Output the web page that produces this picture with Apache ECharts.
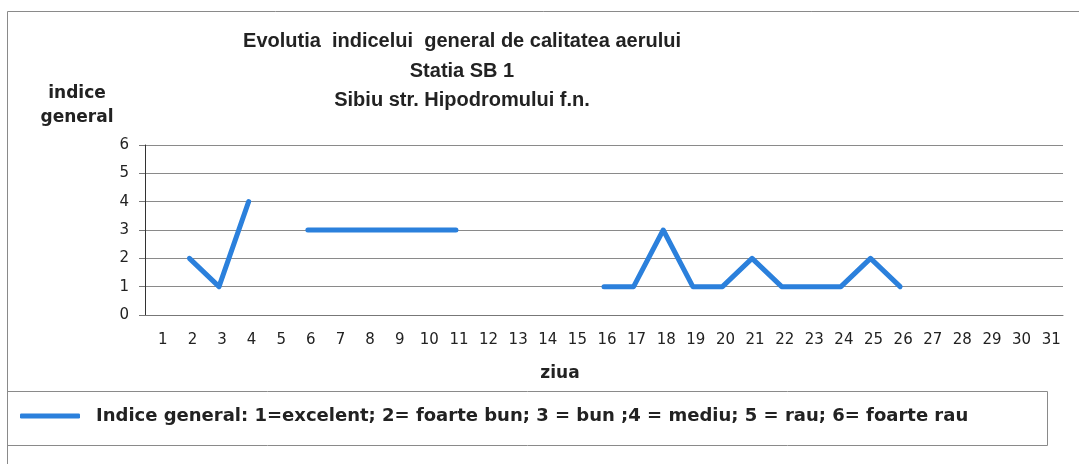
<!DOCTYPE html>
<html>
<head>
<meta charset="utf-8">
<script src="https://cdn.jsdelivr.net/npm/echarts@6/dist/echarts.min.js"></script>
<style>
  html, body { margin: 0; padding: 0; background: #fff; }
  #chart { width: 1079px; height: 464px; }
</style>
</head>
<body>
<div id="chart"></div>
<script>
// zilele lunii
var days = [];
for (var d = 1; d <= 31; d++) days.push(String(d));

// indice general pe zile (null = lipsa date)
var indiceGeneral = [
  null, 2, 1, 4, null, 3, 3, 3, 3, 3, 3,
  null, null, null, null,
  1, 1, 3, 1, 1, 2, 1, 1, 1, 2, 1,
  null, null, null, null, null
];

var yTicks = [0, 1, 2, 3, 4, 5, 6];

var titleLines = [
  'Evolutia  indicelui  general de calitatea aerului',
  'Statia SB 1',
  'Sibiu str. Hipodromului f.n.'
];
var serieName = 'Indice general: 1=excelent; 2= foarte bun; 3 = bun ;4 = mediu; 5 = rau; 6= foarte rau';

var wideFont = 'DejaVu Sans, Verdana, sans-serif';

var chart = echarts.init(document.getElementById('chart'));

var option = {
  backgroundColor: '#fff',
  animation: false,
  textStyle: { fontFamily: 'Liberation Sans, Arial, sans-serif', color: '#222' },
  title: {
    text: titleLines.join('\n'),
    left: 457,
    top: 22,
    textAlign: 'center',
    textStyle: { fontSize: 20, fontWeight: 'bold', color: '#222', lineHeight: 29.5 }
  },
  graphic: [
    // chenarul exterior
    { type: 'rect', shape: { x: 7.5, y: 11.5, width: 1100, height: 500 },
      style: { fill: 'none', stroke: '#8a8a8a', lineWidth: 1 }, silent: true },
    // chenarul legendei
    { type: 'rect', shape: { x: 7.5, y: 391.5, width: 1040, height: 54 },
      style: { fill: 'none', stroke: '#8a8a8a', lineWidth: 1 }, silent: true }
  ],
  legend: {
    left: 15,
    top: 402,
    icon: 'roundRect',
    itemWidth: 60,
    itemHeight: 5,
    data: [serieName],
    textStyle: { fontFamily: wideFont, fontSize: 18, fontWeight: 'bold', color: '#222',
      padding: [2, 0, 0, 11] }
  },
  grid: { left: 145, top: 145, right: 16, bottom: 149 },
  xAxis: {
    type: 'category',
    data: days,
    boundaryGap: true,
    name: 'ziua',
    nameLocation: 'middle',
    nameGap: 50,
    nameTextStyle: { fontFamily: wideFont, fontSize: 17, fontWeight: 'bold', color: '#222',
      padding: [0, 88, 0, 0] },
    axisLine: { lineStyle: { color: '#777', width: 1 } },
    axisTick: { show: false },
    axisLabel: { fontFamily: wideFont, fontSize: 15, color: '#222', margin: 18, interval: 0,
      padding: [0, 0, 0, 6] }
  },
  yAxis: {
    type: 'value',
    min: yTicks[0],
    max: yTicks[yTicks.length - 1],
    interval: 1,
    name: 'indice\ngeneral',
    nameLocation: 'end',
    nameGap: 15,
    nameTextStyle: { fontFamily: wideFont, fontSize: 17, fontWeight: 'bold', color: '#222',
      align: 'center', lineHeight: 24, padding: [0, 136, 0, 0] },
    axisLine: { show: true, lineStyle: { color: '#333', width: 1 } },
    axisTick: { show: true, length: 6, lineStyle: { color: '#777' } },
    axisLabel: { fontFamily: wideFont, fontSize: 15, color: '#222', margin: 16 },
    splitLine: { lineStyle: { color: '#8a8a8a', width: 1 } }
  },
  series: [{
    name: serieName,
    type: 'line',
    data: indiceGeneral,
    showSymbol: false,
    connectNulls: false,
    itemStyle: { color: '#2b80dc' },
    lineStyle: { color: '#2b80dc', width: 5, cap: 'round', join: 'round' }
  }]
};

chart.setOption(option);
</script>
</body>
</html>
